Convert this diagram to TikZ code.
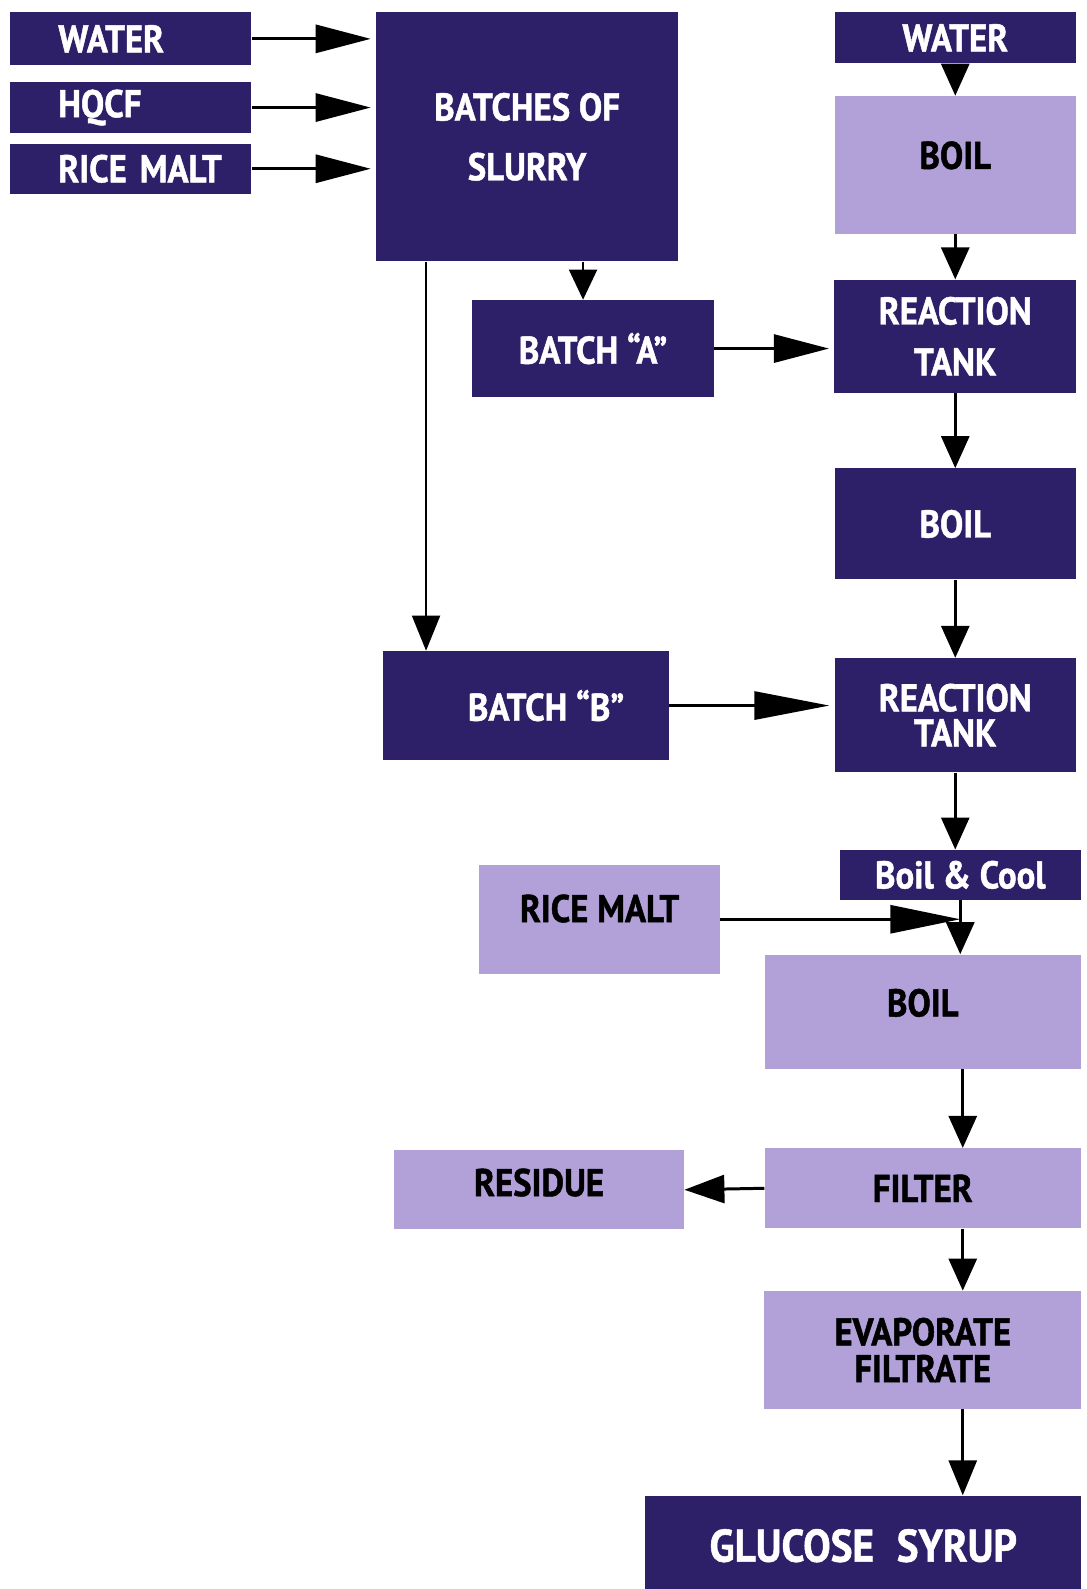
\documentclass[tikz,border=0pt]{standalone}
\usepackage{fontspec}
\usepackage{tikz}
\usetikzlibrary{positioning}
\usetikzlibrary{arrows.meta}
\newfontfamily\flowfont[FakeStretch=0.9, BoldFeatures={FakeBold=1.2}]{PT Sans}
\definecolor{flowdark}{RGB}{45,31,104}
\definecolor{flowlight}{RGB}{178,160,216}
\tikzset{
flow/.style={line width=1.7pt, -{Triangle[length=#1, width=5.6mm]}},
flow/.default=6.4mm,
}

\begin{document}
\begin{tikzpicture}
[
flow-box/.style={rectangle, inner sep=0mm, align=center, font=\flowfont\bfseries\fontsize{22}{26}\selectfont},
dark-box/.style={flow-box, fill=flowdark, text=white},
light-box/.style={flow-box, fill=flowlight, text=black},
in-box/.style={dark-box, minimum width=48.2mm, text width=48.2mm, align=left, execute at begin node={\hspace*{9.6mm}}},
]
\useasboundingbox (0,0) rectangle (217.4mm,-317.8mm);
\node (waterl)   [in-box, minimum height=10.6mm, anchor=north west] at (2mm,-2.4mm) {WATER};
\node (hqcf)     [in-box, minimum height=10.2mm, below = 3.2mm of waterl]                 {HQCF};
\node (ricel)    [in-box, minimum height=10.0mm, below = 2.0mm of hqcf]                   {RICE MALT};
\node (slurry)   [dark-box, minimum width=60.4mm, minimum height=49.8mm,
                  below right = 0mm and 24.8mm of waterl.north east]                     {BATCHES OF\\[8pt]SLURRY};
\node (batcha)   [dark-box, minimum width=48.4mm, minimum height=19.4mm,
                  below right = 7.6mm and 19.2mm of slurry.south west]                   {BATCH “A”};
\node (batchb)   [dark-box, minimum width=57.2mm, minimum height=21.8mm,
                  below right = 77.8mm and 1.4mm of slurry.south west]                   {\hspace*{8mm}BATCH “B”};
\node (waterr)   [dark-box, minimum width=48.2mm, minimum height=10.2mm,
                  below right = 0mm and 31.2mm of slurry.north east]                     {WATER};
\node (boila)    [light-box, minimum width=48.2mm, minimum height=27.6mm, below = 6.4mm of waterr]  {\raisebox{4mm}{BOIL}};
\node (tanka)    [dark-box, minimum width=48.4mm, minimum height=22.6mm, below = 9.0mm of boila]    {REACTION\\[3pt]TANK};
\node (boilb)    [dark-box, minimum width=48.2mm, minimum height=22.2mm, below = 15.0mm of tanka]   {BOIL};
\node (tankb)    [dark-box, minimum width=48.2mm, minimum height=22.8mm, below = 15.6mm of boilb]   {REACTION\\[-6pt]TANK};
\node (boilcool) [dark-box, minimum width=48.2mm, minimum height=10.0mm, below = 15.4mm of tankb,
                  xshift=1mm]                                                            {Boil \& Cool};
\node (malt)     [light-box, minimum width=48.2mm, minimum height=21.8mm,
                  below right = 20.8mm and 19.2mm of batchb.south west]                  {\raisebox{4.4mm}{RICE MALT}};
\node (boilc)    [light-box, minimum width=63.2mm, minimum height=22.8mm,
                  below left = 10.8mm and 0mm of boilcool.south east]                    {\raisebox{3.6mm}{BOIL}};
\node (filter)   [light-box, minimum width=63.2mm, minimum height=16.0mm, below = 15.8mm of boilc]  {FILTER};
\node (residue)  [light-box, minimum width=58.0mm, minimum height=15.8mm,
                  below left = 0.4mm and 16mm of filter.north west]                      {\raisebox{3mm}{RESIDUE}};
\node (evap)     [light-box, minimum width=63.4mm, minimum height=23.6mm, below = 12.4mm of filter] {EVAPORATE\\[-5pt]FILTRATE};
\node (glucose)  [dark-box, minimum width=87.2mm, minimum height=20.0mm,
                  below left = 17.2mm and 0mm of evap.south east,
                  font=\flowfont\bfseries\fontsize{26}{32}\selectfont]                   {GLUCOSE\enspace SYRUP};
\draw [flow=11mm] (waterl.east) -- ([xshift=-1mm]waterl.east -| slurry.west);
\draw [flow=11mm] (hqcf.east)   -- ([xshift=-1mm]hqcf.east -| slurry.west);
\draw [flow=11mm] (ricel.east)  -- ([xshift=-1mm]ricel.east -| slurry.west);
\draw [flow=6mm, line width=1pt] ([xshift=-2mm]batcha.north |- slurry.south) -- ([xshift=-2mm]batcha.north);
\draw [flow=7mm, line width=1pt] ([xshift=-20mm]batchb.north |- slurry.south) -- ([xshift=-20mm]batchb.north);
\draw [flow=11mm] (batcha.east) -- ([xshift=-1mm]batcha.east -| tanka.west);
\draw [flow=15mm] (batchb.east) -- ([xshift=-1mm]batchb.east -| tankb.west);
\draw [flow]      (waterr.south)   -- (boila.north);
\draw [flow]      (boila.south)    -- (boila.south |- tanka.north);
\draw [flow]      (tanka.south)    -- (tanka.south |- boilb.north);
\draw [flow]      (boilb.south)    -- (boilb.south |- tankb.north);
\draw [flow]      (tankb.south)    -- (tankb.south |- boilcool.north);
\draw [flow]      (boilcool.south) -- (boilcool.south |- boilc.north);
\draw [flow=14mm] (malt.east)      -- (malt.east -| boilcool.south);
\draw [flow]      ([xshift=8mm]boilc.south)  -- ([xshift=8mm]filter.north);
\draw [flow=8mm]  (filter.west)    -- (residue.east);
\draw [flow]      ([xshift=8mm]filter.south) -- ([xshift=8mm]evap.north);
\draw [flow=7mm]  ([xshift=8mm]evap.south)   -- ([xshift=8mm]evap.south |- glucose.north);
%\draw [flow]     (evap) -- (glucose);
\end{tikzpicture}
\end{document}
